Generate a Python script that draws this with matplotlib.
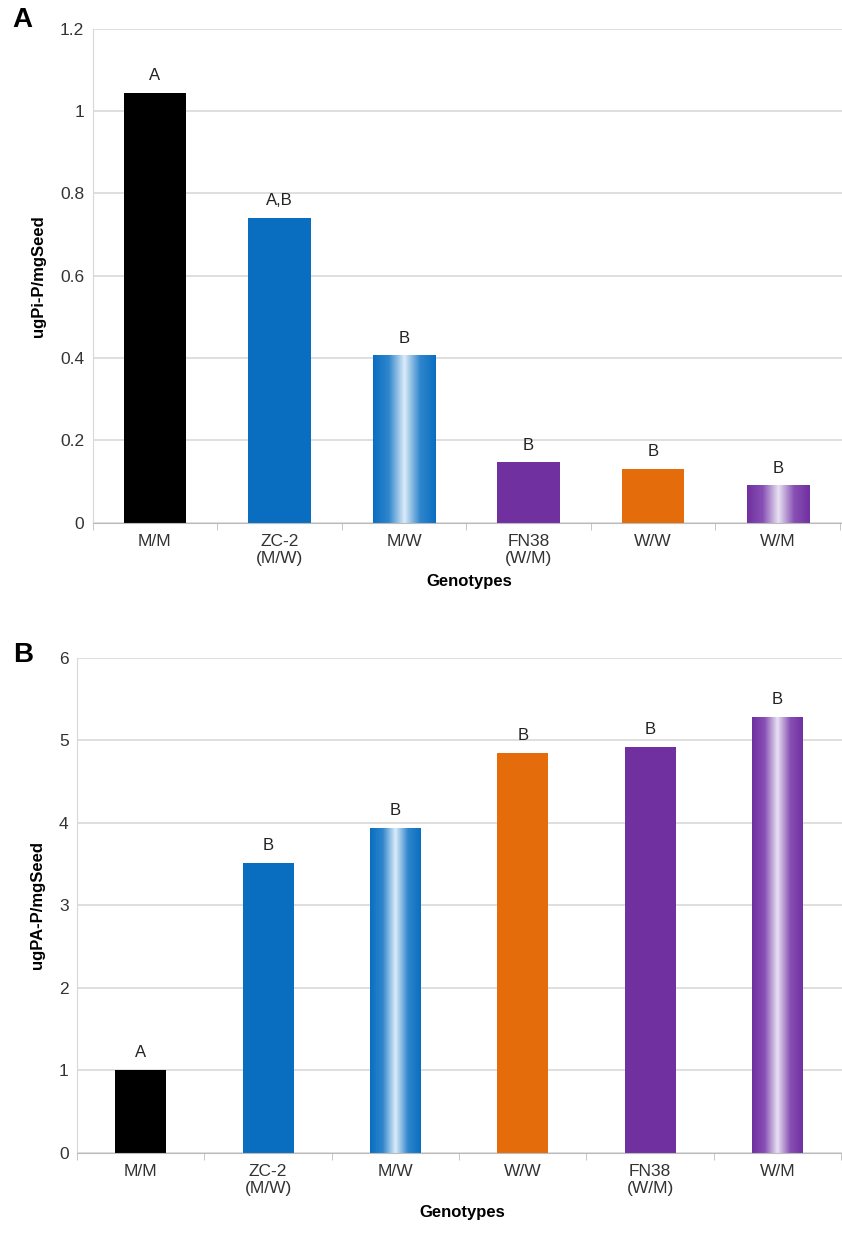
import matplotlib.pyplot as plt
import numpy as np
from matplotlib.colors import LinearSegmentedColormap
from matplotlib.ticker import FuncFormatter, FixedLocator

plt.rcParams['font.family'] = ['Liberation Sans', 'DejaVu Sans']

# Panel A data
labels_a = ["M/M", "ZC-2\n(M/W)", "M/W", "FN38\n(W/M)", "W/W", "W/M"]
values_a = [1.044, 0.741, 0.406, 0.146, 0.131, 0.090]
letters_a = ["A", "A,B", "B", "B", "B", "B"]
colors_a = ["black", "blue", "blue_grad", "purple", "orange", "purple_grad"]

# Panel B data
labels_b = ["M/M", "ZC-2\n(M/W)", "M/W", "W/W", "FN38\n(W/M)", "W/M"]
values_b = [1.0, 3.51, 3.94, 4.85, 4.92, 5.28]
letters_b = ["A", "B", "B", "B", "B", "B"]
colors_b = ["black", "blue", "blue_grad", "orange", "purple", "purple_grad"]

palette = {"black": "#000000", "blue": "#0A6EC0", "orange": "#E46C0A",
           "purple": "#7030A0"}
grads = {
    "blue_grad": LinearSegmentedColormap.from_list(
        "bg", ["#0A6EC0", "#2F86CC", "#DCEBF8", "#2F86CC", "#0A6EC0"]),
    "purple_grad": LinearSegmentedColormap.from_list(
        "pg", ["#7030A0", "#8850B4", "#E8E2F2", "#8850B4", "#7030A0"]),
}


def draw_panel(ax, labels, values, letters, colors, width, ymax, ystep, ylabel):
    x = np.arange(len(labels))
    for i, (v, c) in enumerate(zip(values, colors)):
        if c in grads:
            bar = ax.bar(i, v, width=width, color="none", zorder=2)[0]
            grad = np.linspace(0, 1, 256).reshape(1, -1)
            im = ax.imshow(grad, cmap=grads[c], aspect="auto", zorder=2,
                           extent=(i - width / 2, i + width / 2, 0, v))
            im.set_clip_path(bar)
        else:
            ax.bar(i, v, width=width, color=palette[c], zorder=2)
        ax.text(i, v + ymax * 0.02, letters[i], ha="center", va="bottom",
                fontsize=12, color="#222222")

    ax.set_xlim(-0.5, len(labels) - 0.45)
    ax.set_ylim(0, ymax)
    ax.set_yticks(np.arange(0, ymax + ystep / 2, ystep))
    ax.yaxis.set_major_formatter(FuncFormatter(lambda v, p: "%g" % round(v, 2)))
    ax.set_xticks(x)
    ax.set_xticklabels(labels)
    ax.xaxis.set_minor_locator(FixedLocator(np.arange(-0.5, len(labels), 1.0)))
    ax.tick_params(axis="x", which="major", length=0, pad=8, labelsize=12.5,
                   labelcolor="#333333")
    ax.tick_params(axis="x", which="minor", length=5, color="#bbbbbb")
    ax.tick_params(axis="y", length=0, pad=6, labelsize=12.5, labelcolor="#333333")
    ax.grid(axis="y", color="#d9d9d9", lw=1.2, zorder=0)
    for s in ["top", "right"]:
        ax.spines[s].set_visible(False)
    ax.spines["left"].set_color("#d9d9d9")
    ax.spines["bottom"].set_color("#bbbbbb")
    ax.set_ylabel(ylabel, fontsize=12, fontweight="bold", labelpad=10)
    ax.set_xlabel("Genotypes", fontsize=12, fontweight="bold", labelpad=6)


fig = plt.figure(figsize=(8.42, 12.53), dpi=100)
ax_a = fig.add_axes([0.110, 0.583, 0.895, 0.394])
ax_b = fig.add_axes([0.0915, 0.080, 0.915, 0.395])

draw_panel(ax_a, labels_a, values_a, letters_a, colors_a, 0.5, 1.2, 0.2,
           "ugPi-P/mgSeed")
draw_panel(ax_b, labels_b, values_b, letters_b, colors_b, 0.4, 6, 1,
           "ugPA-P/mgSeed")

# panel tags
fig.text(0.026, 0.984, "A", fontsize=20, fontweight="bold", ha="center", va="center")
fig.text(0.028, 0.477, "B", fontsize=20, fontweight="bold", ha="center", va="center")

fig.savefig("out.png", dpi=100)
